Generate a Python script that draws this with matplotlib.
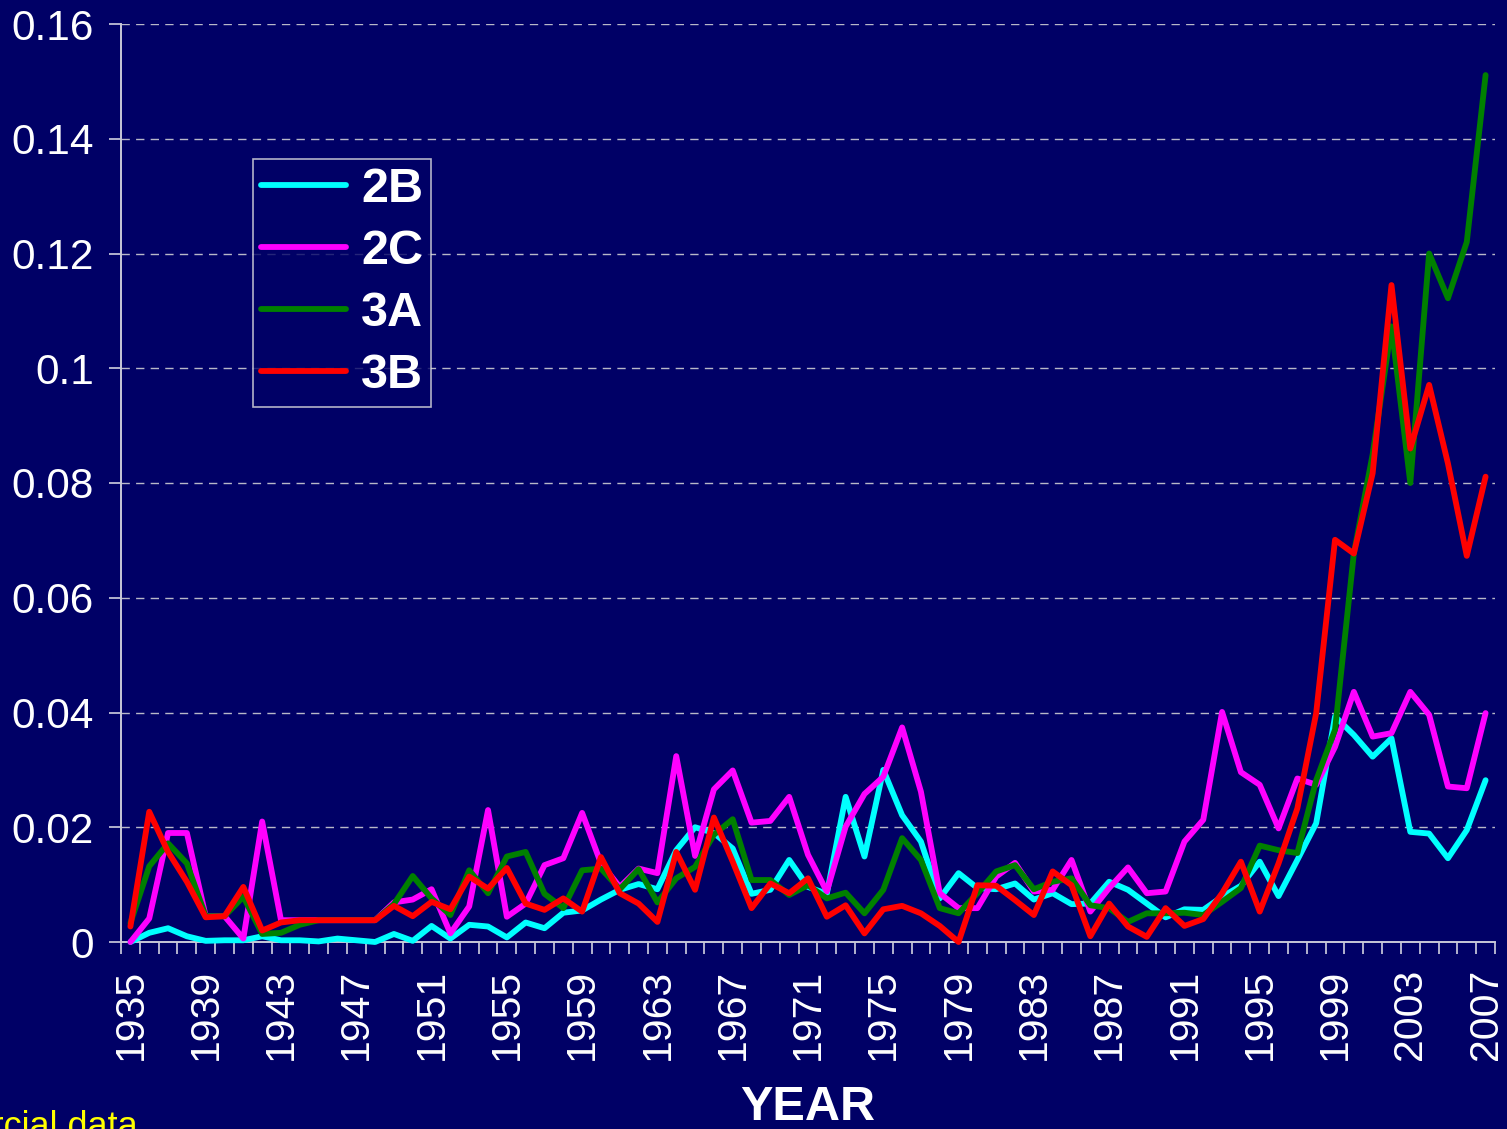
import matplotlib
matplotlib.use("Agg")
import matplotlib.pyplot as plt
from matplotlib.ticker import FixedLocator, NullFormatter

plt.rcParams['font.family'] = ['Liberation Sans', 'DejaVu Sans']

years = list(range(1935, 2008))

s2B = [0, 0.0016, 0.0024, 0.001, 0.0002, 0.0003, 0.0003, 0.001, 0.0003, 0.0003,
       0.0001, 0.0006, 0.0003, 0.0, 0.0014, 0.0002, 0.0028, 0.0006, 0.003, 0.0027,
       0.0008, 0.0034, 0.0024, 0.0051, 0.0055, 0.0074, 0.0091, 0.0101, 0.0092, 0.016,
       0.02, 0.019, 0.0163, 0.0084, 0.0091, 0.0143, 0.0096, 0.0084, 0.0253, 0.0149,
       0.03, 0.0221, 0.0175, 0.0076, 0.012, 0.0094, 0.0092, 0.0102, 0.0074, 0.0085,
       0.0066, 0.0067, 0.0105, 0.0091, 0.0067, 0.0043, 0.0057, 0.0056, 0.0079, 0.0098,
       0.014, 0.008, 0.0143, 0.0207, 0.0393, 0.0361, 0.0323, 0.0355, 0.0192, 0.0189,
       0.0146, 0.0195, 0.0282]

s2C = [0, 0.0041, 0.019, 0.019, 0.0045, 0.0045, 0.0006, 0.021, 0.0038, 0.0038,
       0.0038, 0.0038, 0.0038, 0.0038, 0.0069, 0.0074, 0.0092, 0.0015, 0.0062, 0.023,
       0.0044, 0.0067, 0.0134, 0.0146, 0.0225, 0.0137, 0.0096, 0.0128, 0.012, 0.0324,
       0.015, 0.0266, 0.0299, 0.0208, 0.0211, 0.0253, 0.0152, 0.0088, 0.0201, 0.0258,
       0.0288, 0.0374, 0.0262, 0.0085, 0.0059, 0.0059, 0.0114, 0.0138, 0.0088, 0.0091,
       0.0143, 0.0053, 0.0094, 0.013, 0.0085, 0.0088, 0.0175, 0.0213, 0.0401, 0.0296,
       0.0274, 0.0198, 0.0285, 0.0274, 0.034, 0.0436, 0.0358, 0.0364, 0.0436, 0.0396,
       0.0271, 0.0268, 0.0399]

s3A = [0.0033, 0.0132, 0.0172, 0.0137, 0.0045, 0.0045, 0.0079, 0.0014, 0.0016, 0.003,
       0.0038, 0.0038, 0.0038, 0.0038, 0.0066, 0.0115, 0.0076, 0.0047, 0.0125, 0.0085,
       0.0149, 0.0157, 0.0084, 0.0059, 0.0125, 0.0128, 0.0092, 0.0127, 0.0069, 0.0111,
       0.0131, 0.0187, 0.0214, 0.0108, 0.0108, 0.0082, 0.0099, 0.0076, 0.0086, 0.005,
       0.0091, 0.0181, 0.0143, 0.0059, 0.005, 0.0085, 0.0123, 0.0134, 0.0092, 0.0105,
       0.0111, 0.0064, 0.0059, 0.0035, 0.005, 0.005, 0.0051, 0.0047, 0.007, 0.0094,
       0.0168, 0.016, 0.0155, 0.0282, 0.037, 0.0677, 0.085, 0.1073, 0.08, 0.12,
       0.1122, 0.122, 0.1511]

s3B = [0.0027, 0.0227, 0.0157, 0.0105, 0.0043, 0.0045, 0.0096, 0.002, 0.0034, 0.0038,
       0.0038, 0.0038, 0.0038, 0.0038, 0.0063, 0.0045, 0.007, 0.0057, 0.0114, 0.0093,
       0.0129, 0.0067, 0.0056, 0.0076, 0.0053, 0.0148, 0.0085, 0.0067, 0.0035, 0.0157,
       0.0091, 0.0217, 0.014, 0.0059, 0.0102, 0.0085, 0.0111, 0.0044, 0.0064, 0.0015,
       0.0057, 0.0063, 0.005, 0.0028, 0.0, 0.0099, 0.0098, 0.0073, 0.0047, 0.0123,
       0.0099, 0.001, 0.0067, 0.0027, 0.0009, 0.0059, 0.0028, 0.004, 0.0085, 0.014,
       0.0053, 0.0137, 0.0233, 0.0399, 0.0701, 0.0677, 0.0817, 0.1145, 0.086, 0.0971,
       0.0834, 0.0673, 0.0811]

series_names = ['2B', '2C', '3A', '3B']
series_values = [s2B, s2C, s3A, s3B]
series_colors = ['#00FFFF', '#FF00FF', '#008000', '#FF0000']

ytick_vals = [0, 0.02, 0.04, 0.06, 0.08, 0.10, 0.12, 0.14, 0.16]
ytick_labels = ['0', '0.02', '0.04', '0.06', '0.08', '0.1', '0.12', '0.14', '0.16']
xtick_years = list(range(1935, 2008, 4))

BG = '#000066'
W, H = 1507, 1129
fig = plt.figure(figsize=(W / 100, H / 100), dpi=100, facecolor=BG)
ax = fig.add_axes([121 / W, 1 - 942 / H, (1495 - 121) / W, (942 - 24) / H])
ax.set_facecolor(BG)

for name, vals, col in zip(series_names, series_values, series_colors):
    ax.plot(years, vals, color=col, lw=4.2, label=name, solid_joinstyle='round',
            solid_capstyle='round', clip_on=False, zorder=3)

ax.set_xlim(1934.5, 2007.5)
ax.set_ylim(0, 0.16)

ax.set_yticks(ytick_vals)
ax.set_yticklabels(ytick_labels)
ax.yaxis.grid(True, color='#b8b8c8', lw=1.0, linestyle=(0, (6, 4.5)))
ax.set_axisbelow(True)

ax.set_xticks(xtick_years)
ax.set_xticklabels([str(y) for y in xtick_years], rotation=90)
ax.xaxis.set_minor_locator(FixedLocator([1934.5 + k for k in range(74)]))
ax.xaxis.set_minor_formatter(NullFormatter())
ax.tick_params(axis='x', which='major', length=0, pad=19, labelsize=29.5, labelcolor='white')
ax.tick_params(axis='x', which='minor', length=8.6, width=1.2, color='#d0d0e0', direction='out')
ax.tick_params(axis='y', which='major', length=8.6, width=1.2, color='#d0d0e0', direction='out',
               pad=11, labelsize=30.5, labelcolor='white')

for s in ['top', 'right']:
    ax.spines[s].set_visible(False)
for s in ['left', 'bottom']:
    ax.spines[s].set_color('#c8c8d8')
    ax.spines[s].set_linewidth(1.4)

ax.set_xlabel('YEAR', fontsize=35, fontweight='bold', color='white', labelpad=18)

leg = ax.legend(loc='upper left', bbox_to_anchor=(253 / W, 1 - 159 / H),
                bbox_transform=fig.transFigure, frameon=True, fancybox=False,
                prop={'size': 35, 'weight': 'bold'}, labelcolor='white',
                handlelength=1.75, handletextpad=0.3, labelspacing=0.35,
                borderpad=0.17, borderaxespad=0)
leg.get_frame().set_facecolor(BG)
leg.get_frame().set_edgecolor('#e0e0e0')
leg.get_frame().set_linewidth(1.2)
for line in leg.get_lines():
    line.set_linewidth(4.2)

fig.text(138 / W, -8 / H, 'Commercial data', color='#FFFF00', fontsize=26,
         ha='right', va='baseline')

fig.savefig('out.png', dpi=100, facecolor=BG)
